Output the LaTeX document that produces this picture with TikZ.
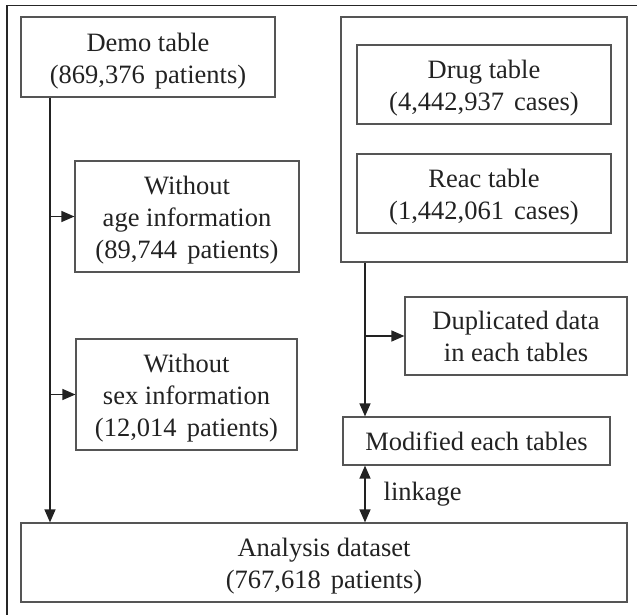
\documentclass[tikz,border=0pt]{standalone}
\usepackage{fontspec}
\setmainfont{Liberation Serif}
\usetikzlibrary{arrows.meta}
\definecolor{ink}{HTML}{222222}
\definecolor{edge}{HTML}{555555}
\tikzset{
  box/.style={draw=edge, line width=1.2pt, align=center, inner sep=0pt,
    text=ink, font=\fontsize{26.5}{32}\selectfont},
  flow/.style={draw=edge, line width=1.3pt,
    -{Triangle[length=13pt,width=11pt]}, color=ink},
  link/.style={draw=edge, line width=1.3pt,
    {Triangle[length=13pt,width=11pt]}-{Triangle[length=13pt,width=11pt]}, color=ink},
  lbl/.style={text=ink, font=\fontsize{26.5}{32}\selectfont, inner sep=0pt}
}
\newcommand{\gap}{\hspace{0.38em}}
\newcommand{\topstrut}{\rule{0pt}{26pt}}
\begin{document}
\begin{tikzpicture}[x=1pt,y=-1pt]
\useasboundingbox (0,0) rectangle (637,615);
% outer frame
\draw[draw=black!85, line width=1.8pt] (7,615) -- (7,5.5) -- (637,5.5);

% left branch
\node[box, minimum width=254pt, minimum height=80pt] (demo) at (148,57)
  {\topstrut Demo table\\(869,376\gap patients)};
\node[box, minimum width=224pt, minimum height=111pt] (age) at (187,216.5)
  {\topstrut Without\\age information\\(89,744\gap patients)};
\node[box, minimum width=221pt, minimum height=111pt] (sex) at (186.5,394.5)
  {\topstrut Without\\sex information\\(12,014\gap patients)};

% right branch
\node[box, minimum width=286pt, minimum height=245pt] (tables) at (484,139.5) {};
\node[box, minimum width=254pt, minimum height=79pt] (drug) at (484,84.5)
  {\topstrut Drug table\\(4,442,937\gap cases)};
\node[box, minimum width=254pt, minimum height=79pt] (reac) at (484,193.5)
  {\topstrut Reac table\\(1,442,061\gap cases)};
\node[box, minimum width=222pt, minimum height=78pt] (dup) at (516,336)
  {Duplicated data\\in each tables};
\node[box, minimum width=267pt, minimum height=48pt] (mod) at (476.5,441)
  {Modified each tables};

% result
\node[box, minimum width=606pt, minimum height=79pt] (result) at (324,562.5)
  {\topstrut Analysis dataset\\(767,618\gap patients)};

% connectors
\coordinate (ltop) at (demo.south -| 50,0);
\coordinate (rtop) at (tables.south -| 365,0);
\draw[flow] (ltop) -- (ltop |- result.north);
\draw[flow] (ltop |- age.west) -- (age.west);
\draw[flow] (ltop |- sex.west) -- (sex.west);
\draw[flow] (rtop) -- (rtop |- mod.north);
\draw[flow] (rtop |- dup.west) -- (dup.west);
\draw[link] (rtop |- mod.south) -- node[lbl, anchor=west, xshift=18pt] (lk) {linkage} (rtop |- result.north);
\end{tikzpicture}
\end{document}
